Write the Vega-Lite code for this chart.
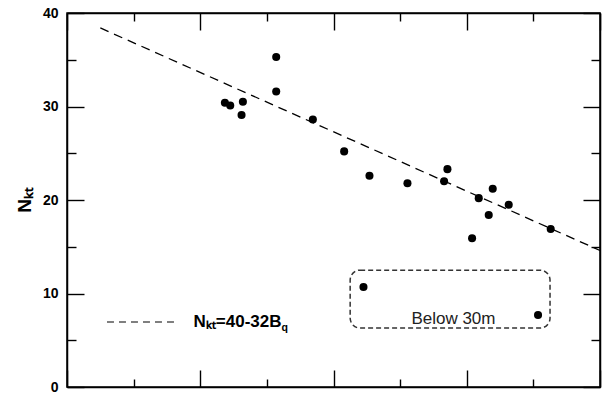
{
  "$schema": "https://vega.github.io/schema/vega-lite/v6.json",
  "width": 533,
  "height": 374,
  "autosize": "none",
  "padding": {"left": 67, "top": 13, "right": 6, "bottom": 7},
  "background": "white",
  "config": {
    "font": "Liberation Sans",
    "view": {"stroke": "black", "strokeWidth": 1.5},
    "axis": {"domainColor": "black", "domainWidth": 1.5, "tickColor": "black", "tickWidth": 1.4, "grid": false, "labelColor": "black", "labelFont": "Liberation Sans", "labelFontWeight": "bold", "labelFontSize": 14, "titleColor": "black"}
  },
  "datasets": {
    "points": [
      {"B": 0.237, "N": 30.4}, {"B": 0.245, "N": 30.1}, {"B": 0.264, "N": 30.5}, {"B": 0.262, "N": 29.1},
      {"B": 0.314, "N": 35.3}, {"B": 0.314, "N": 31.6}, {"B": 0.369, "N": 28.6}, {"B": 0.416, "N": 25.2},
      {"B": 0.454, "N": 22.6}, {"B": 0.511, "N": 21.8}, {"B": 0.571, "N": 23.3}, {"B": 0.566, "N": 22.0},
      {"B": 0.618, "N": 20.2}, {"B": 0.639, "N": 21.2}, {"B": 0.633, "N": 18.4}, {"B": 0.663, "N": 19.5},
      {"B": 0.608, "N": 15.9}, {"B": 0.726, "N": 16.9}, {"B": 0.445, "N": 10.7}, {"B": 0.707, "N": 7.7}
    ],
    "fit": [{"B": 0.05, "N": 38.4}, {"B": 0.8, "N": 14.6}],
    "box": [{"B1": 0.425, "B2": 0.725, "N1": 6.3, "N2": 12.5, "label": "Below 30m", "lx": 0.58, "ly": 7.3}],
    "legend": [{"B1": 0.06, "B2": 0.167, "N": 6.95, "label": "Nₖₜ=40-32B", "sub": "q", "lx": 0.322}]
  },
  "resolve": {"scale": {"x": "shared", "y": "shared"}, "axis": {"x": "independent", "y": "independent"}},
  "layer": [
    {
      "data": {"name": "fit"},
      "mark": {"type": "line", "color": "black", "strokeWidth": 1.3, "strokeDash": [9, 6]},
      "encoding": {
        "x": {"field": "B", "type": "quantitative", "scale": {"domain": [0, 0.8], "nice": false, "zero": false},
              "axis": {"orient": "top", "values": [0, 0.2, 0.4, 0.6, 0.8], "labels": false, "tickSize": -17, "title": null}},
        "y": {"field": "N", "type": "quantitative", "scale": {"domain": [0, 40], "nice": false},
              "axis": {"orient": "right", "values": [0, 10, 20, 30, 40], "labels": false, "tickSize": -17, "title": null}}
      }
    },
    {
      "data": {"name": "points"},
      "mark": {"type": "circle", "color": "black", "opacity": 1, "size": 65},
      "encoding": {
        "x": {"field": "B", "type": "quantitative",
              "axis": {"orient": "bottom", "values": [0, 0.2, 0.4, 0.6, 0.8], "labels": false, "tickSize": -17, "title": null}},
        "y": {"field": "N", "type": "quantitative",
              "axis": {"orient": "left", "values": [0, 10, 20, 30, 40], "tickSize": -17, "labelPadding": 26,
                       "title": "Nₖₜ", "titleFontSize": 19, "titleFontWeight": "bold", "titlePadding": 8}}
      }
    },
    {
      "data": {"name": "box"},
      "mark": {"type": "rect", "fill": null, "fillOpacity": 0, "stroke": "#333333", "strokeWidth": 1.5, "strokeDash": [5, 3], "cornerRadius": 10},
      "encoding": {
        "x": {"field": "B1", "type": "quantitative",
              "axis": {"orient": "bottom", "values": [0.1, 0.3, 0.5, 0.7], "labels": false, "domain": false, "tickSize": -8, "title": null}},
        "x2": {"field": "B2"},
        "y": {"field": "N1", "type": "quantitative",
              "axis": {"orient": "left", "values": [5, 15, 25, 35], "labels": false, "domain": false, "tickSize": -9, "title": null}},
        "y2": {"field": "N2"}
      }
    },
    {
      "data": {"name": "box"},
      "mark": {"type": "text", "fontSize": 17, "color": "#222222", "align": "center", "baseline": "middle"},
      "encoding": {
        "x": {"field": "lx", "type": "quantitative",
              "axis": {"orient": "top", "values": [0.1, 0.3, 0.5, 0.7], "labels": false, "domain": false, "tickSize": -8, "title": null}},
        "y": {"field": "ly", "type": "quantitative",
              "axis": {"orient": "right", "values": [5, 15, 25, 35], "labels": false, "domain": false, "tickSize": -9, "title": null}},
        "text": {"field": "label"}
      }
    },
    {
      "data": {"name": "legend"},
      "mark": {"type": "rule", "color": "black", "strokeWidth": 1.2, "strokeDash": [7, 5]},
      "encoding": {
        "x": {"field": "B1", "type": "quantitative", "axis": null},
        "x2": {"field": "B2"},
        "y": {"field": "N", "type": "quantitative", "axis": null}
      }
    },
    {
      "data": {"name": "legend"},
      "mark": {"type": "text", "fontSize": 17, "fontWeight": "bold", "color": "black", "align": "right", "baseline": "middle"},
      "encoding": {
        "x": {"field": "lx", "type": "quantitative", "axis": null},
        "y": {"field": "N", "type": "quantitative", "axis": null},
        "text": {"field": "label"}
      }
    },
    {
      "data": {"name": "legend"},
      "mark": {"type": "text", "fontSize": 10.5, "fontWeight": "bold", "color": "black", "align": "left", "baseline": "middle", "dy": 6},
      "encoding": {
        "x": {"field": "lx", "type": "quantitative", "axis": null},
        "y": {"field": "N", "type": "quantitative", "axis": null},
        "text": {"field": "sub"}
      }
    }
  ]
}
